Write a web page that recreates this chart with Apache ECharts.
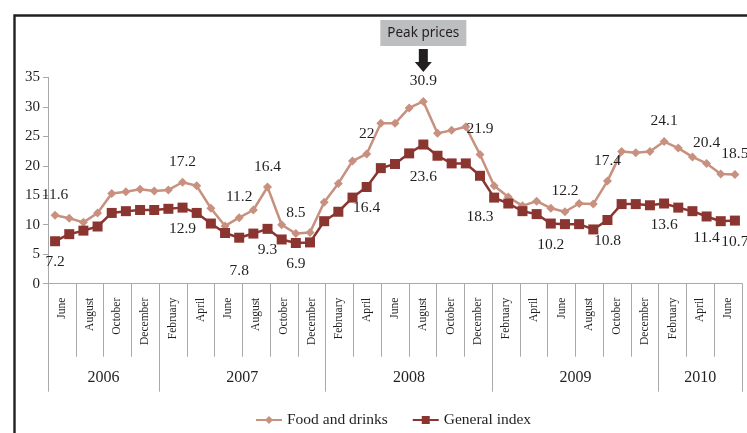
<!DOCTYPE html>
<html>
<head>
<meta charset="utf-8">
<script src="https://cdn.jsdelivr.net/npm/echarts@6/dist/echarts.min.js"></script>
<style>
html,body{margin:0;padding:0;background:#fff;}
#chart{width:747px;height:433px;}
</style>
</head>
<body>
<div id="chart"></div>
<script>
// ---- data ----
const months = [
 'Jun 2006','Jul 2006','Aug 2006','Sep 2006','Oct 2006','Nov 2006','Dec 2006',
 'Jan 2007','Feb 2007','Mar 2007','Apr 2007','May 2007','Jun 2007','Jul 2007','Aug 2007','Sep 2007','Oct 2007','Nov 2007','Dec 2007',
 'Jan 2008','Feb 2008','Mar 2008','Apr 2008','May 2008','Jun 2008','Jul 2008','Aug 2008','Sep 2008','Oct 2008','Nov 2008','Dec 2008',
 'Jan 2009','Feb 2009','Mar 2009','Apr 2009','May 2009','Jun 2009','Jul 2009','Aug 2009','Sep 2009','Oct 2009','Nov 2009','Dec 2009',
 'Jan 2010','Feb 2010','Mar 2010','Apr 2010','May 2010','Jun 2010'
];
const foodAndDrinks = [
 11.6, 11.1, 10.4, 12.0, 15.3, 15.6, 16.0,
 15.7, 15.9, 17.2, 16.6, 12.8, 9.8, 11.2, 12.5, 16.4, 10.0, 8.5, 8.7,
 13.8, 17.0, 20.8, 22.0, 27.2, 27.2, 29.8, 30.9, 25.5, 26.0, 26.6, 21.9,
 16.6, 14.7, 13.2, 14.0, 12.8, 12.2, 13.6, 13.5, 17.4, 22.4, 22.2, 22.4,
 24.1, 23.0, 21.5, 20.4, 18.6, 18.5
];
const generalIndex = [
 7.2, 8.4, 9.0, 9.7, 12.0, 12.3, 12.5,
 12.5, 12.7, 12.9, 12.0, 10.2, 8.6, 7.8, 8.5, 9.3, 7.5, 6.9, 7.0,
 10.6, 12.2, 14.6, 16.4, 19.6, 20.3, 22.1, 23.6, 21.7, 20.4, 20.4, 18.3,
 14.6, 13.6, 12.3, 11.8, 10.2, 10.1, 10.1, 9.2, 10.8, 13.5, 13.5, 13.3,
 13.6, 12.9, 12.3, 11.4, 10.6, 10.7
];
const monthTickLabels = [
 'June','August','October','December',
 'February','April','June','August','October','December',
 'February','April','June','August','October','December',
 'February','April','June','August','October','December',
 'February','April','June'
];
const yearLabels = ['2006','2007','2008','2009','2010'];
const yearBoxSpans = [4, 6, 6, 6, 3]; // number of two-month boxes per year
const foodLabelIdx = [0,9,13,15,17,22,26,30,36,39,43,46,48];
const generalLabelIdx = [0,9,13,15,17,22,26,30,35,39,43,46,48];
const peakIndex = 26;
const yTicks = {min: 0, max: 35, interval: 5};

// ---- build year axis (half-box resolution) ----
const halfCount = yearBoxSpans.reduce((a, b) => a + b, 0) * 2; // 50
const yearCats = new Array(halfCount + 1).fill('');
const yearTickSet = new Set([0]);
let pos = 0;
yearBoxSpans.forEach((span, i) => {
  const start = pos;
  pos += span * 2;
  yearTickSet.add(pos);
  yearCats[start + span] = yearLabels[i];
});
const yearLabelSet = new Set();
yearCats.forEach((c, i) => { if (c) yearLabelSet.add(i); });

// ---- styles ----
const serif = 'Liberation Serif';
const txt = '#231f20';
const axisGray = '#a7a9ac';
const foodColor = '#c8907f';
const genColor = '#8b3530';
const genDist = {13: 20, 26: 19, 30: 28};
const foodDist = {30: 13};

function withLabels(values, idxs, position, distMap) {
  return values.map((v, i) => {
    if (idxs.indexOf(i) < 0) return v;
    return {
      value: v,
      label: {
        show: true, position: position, distance: distMap[i] || 8,
        color: txt, fontFamily: serif, fontSize: 15.5
      }
    };
  });
}

const chart = echarts.init(document.getElementById('chart'), null, {renderer: 'canvas'});
chart.setOption({
  animation: false,
  backgroundColor: '#fff',
  graphic: [{
    type: 'rect', left: 12, top: 13, silent: true,
    shape: {width: 900, height: 600},
    style: {fill: 'none', stroke: '#231f20', lineWidth: 2.4}
  }],
  grid: {left: 48, right: 5, top: 77.3, bottom: 149.3, containLabel: false},
  legend: {
    left: 250, top: 407,
    itemWidth: 26, itemHeight: 10, itemGap: 24,
    textStyle: {fontFamily: serif, fontSize: 15.5, color: txt},
    data: ['Food and drinks', 'General index']
  },
  xAxis: [
    {
      type: 'category', data: months, boundaryGap: true,
      axisLine: {show: true, lineStyle: {color: axisGray, width: 1}},
      axisTick: {show: false}, axisLabel: {show: false}, splitLine: {show: false}
    },
    {
      type: 'category', data: monthTickLabels, boundaryGap: true, position: 'bottom',
      axisLine: {show: false},
      axisTick: {show: true, interval: 0, length: 73, lineStyle: {color: axisGray, width: 1}},
      axisLabel: {show: true, interval: 0, rotate: 90, margin: 14,
        fontFamily: serif, fontSize: 11.5, color: txt},
      splitLine: {show: false}
    },
    {
      type: 'category', data: yearCats, boundaryGap: false, position: 'bottom',
      axisLine: {show: false},
      axisTick: {show: true, length: 108, lineStyle: {color: axisGray, width: 1},
        interval: (i) => yearTickSet.has(i)},
      axisLabel: {show: true, margin: 86, fontFamily: serif, fontSize: 16, color: txt,
        interval: (i) => yearLabelSet.has(i)},
      splitLine: {show: false}
    }
  ],
  yAxis: {
    type: 'value', min: yTicks.min, max: yTicks.max, interval: yTicks.interval,
    axisLine: {show: true, lineStyle: {color: axisGray, width: 1}},
    axisTick: {show: true, length: 5, lineStyle: {color: axisGray}},
    axisLabel: {fontFamily: serif, fontSize: 15, color: txt, margin: 8},
    splitLine: {show: false}
  },
  series: [
    {
      name: 'Food and drinks', type: 'line', xAxisIndex: 0,
      data: withLabels(foodAndDrinks, foodLabelIdx, 'top', foodDist),
      symbol: 'diamond', symbolSize: 9, showAllSymbol: true,
      lineStyle: {color: foodColor, width: 2.5},
      itemStyle: {color: foodColor},
      z: 3,
      markPoint: {
        silent: true,
        animation: false,
        data: [{
          coord: [months[peakIndex], foodAndDrinks[peakIndex]],
          symbol: 'path://M4,0 L13,0 L13,13 L17,13 L8.5,23 L0,13 L4,13 Z',
          symbolSize: [17, 23], symbolKeepAspect: false,
          symbolOffset: [0, -41],
          itemStyle: {color: '#231f20'},
          label: {
            show: true, formatter: 'Peak prices', position: 'top', distance: 3,
            backgroundColor: '#bcbec0', padding: [6, 7, 6, 7],
            fontFamily: 'Noto Sans', fontSize: 13.5, color: txt
          }
        }]
      }
    },
    {
      name: 'General index', type: 'line', xAxisIndex: 0,
      data: withLabels(generalIndex, generalLabelIdx, 'bottom', genDist),
      symbol: 'rect', symbolSize: 10, showAllSymbol: true,
      lineStyle: {color: genColor, width: 2.5},
      itemStyle: {color: genColor},
      z: 4
    }
  ]
});
</script>
</body>
</html>
